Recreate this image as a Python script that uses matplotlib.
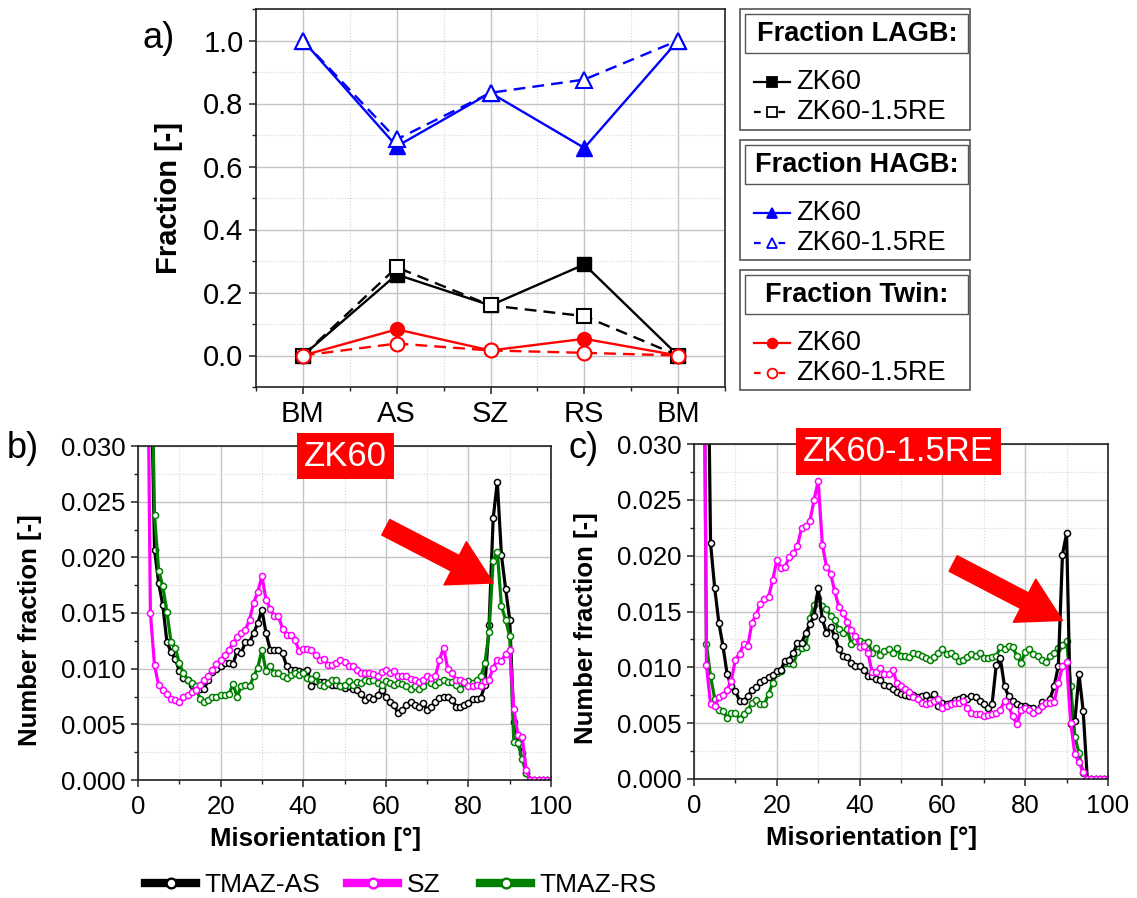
import matplotlib
matplotlib.use('Agg')
import matplotlib.pyplot as plt
from matplotlib.lines import Line2D
from matplotlib.patches import Rectangle

plt.rcParams['font.family'] = ['Liberation Sans', 'DejaVu Sans']

# ---- panel a data ----
sites = ['BM', 'AS', 'SZ', 'RS', 'BM']
lagb_zk60 = [0.0, 0.257, 0.159, 0.289, 0.0]
lagb_re = [0.0, 0.280, 0.159, 0.125, 0.0]
hagb_zk60 = [1.0, 0.664, 0.834, 0.659, 1.0]
hagb_re = [1.0, 0.686, 0.834, 0.876, 1.0]
twin_zk60 = [0.0, 0.083, 0.016, 0.053, 0.0]
twin_re = [0.0, 0.038, 0.016, 0.0085, 0.0]

# ---- panels b, c data (misorientation in degrees) ----
angle = list(range(2, 101))

as_b = [0.06, 0.04, 0.0207, 0.0177, 0.0157, 0.0124, 0.0115, 0.0109, 0.0098, 0.0092,
        0.0090, 0.0085, 0.0083, 0.0082, 0.0082, 0.0090, 0.0097, 0.0100, 0.0102, 0.0105,
        0.0105, 0.0104, 0.0116, 0.0114, 0.0124, 0.0124, 0.0132, 0.0141, 0.0153, 0.0132,
        0.0117, 0.0117, 0.0117, 0.0114, 0.0102, 0.0099, 0.0099, 0.0098, 0.0097, 0.0099,
        0.0084, 0.0089, 0.0088, 0.0088, 0.0087, 0.0085, 0.0085, 0.0084, 0.0083, 0.0084,
        0.0082, 0.0081, 0.0077, 0.0072, 0.0075, 0.0073, 0.0076, 0.0081, 0.0075, 0.0070,
        0.0067, 0.0060, 0.0063, 0.0067, 0.0070, 0.0067, 0.0066, 0.0069, 0.0063, 0.0066,
        0.0070, 0.0074, 0.0075, 0.0075, 0.0072, 0.0066, 0.0066, 0.0067, 0.0069, 0.0073,
        0.0073, 0.0074, 0.0085, 0.0139, 0.0235, 0.0268, 0.0202, 0.0172, 0.0144, 0.0052,
        0.0033, 0.0024, 0.0006, 0.0, 0.0, 0.0, 0.0, 0.0, 0.0]
sz_b = [0.0525, 0.0150, 0.0103, 0.0085, 0.0081, 0.0077, 0.0073, 0.0072, 0.0070, 0.0075,
        0.0076, 0.0079, 0.0081, 0.0085, 0.0090, 0.0093, 0.0099, 0.0104, 0.0108, 0.0112,
        0.0117, 0.0123, 0.0128, 0.0132, 0.0135, 0.0144, 0.0159, 0.0169, 0.0183, 0.0162,
        0.0154, 0.0147, 0.0147, 0.0136, 0.0130, 0.0130, 0.0126, 0.0116, 0.0118, 0.0118,
        0.0117, 0.0112, 0.0108, 0.0109, 0.0103, 0.0103, 0.0105, 0.0108, 0.0106, 0.0102,
        0.0102, 0.0099, 0.0096, 0.0096, 0.0096, 0.0095, 0.0093, 0.0097, 0.0099, 0.0096,
        0.0098, 0.0093, 0.0093, 0.0093, 0.0091, 0.0090, 0.0088, 0.0090, 0.0093, 0.0092,
        0.0093, 0.0108, 0.0119, 0.0100, 0.0096, 0.0090, 0.0090, 0.0088, 0.0084, 0.0084,
        0.0085, 0.0084, 0.0089, 0.0090, 0.0101, 0.0108, 0.0107, 0.0113, 0.0117, 0.0064,
        0.0040, 0.0039, 0.0009, 0.0, 0.0, 0.0, 0.0, 0.0, 0.0]
rs_b = [0.07, 0.045, 0.0238, 0.0188, 0.0174, 0.0151, 0.0124, 0.0119, 0.0105, 0.0096,
        0.0090, 0.0087, 0.0084, 0.0073, 0.0070, 0.0072, 0.0075, 0.0075, 0.0076, 0.0076,
        0.0077, 0.0086, 0.0075, 0.0084, 0.0085, 0.0084, 0.0093, 0.0101, 0.0117, 0.0098,
        0.0102, 0.0096, 0.0096, 0.0093, 0.0092, 0.0094, 0.0096, 0.0094, 0.0096, 0.0092,
        0.0091, 0.0094, 0.0085, 0.0084, 0.0087, 0.0090, 0.0090, 0.0084, 0.0085, 0.0089,
        0.0085, 0.0088, 0.0087, 0.0090, 0.0089, 0.0090, 0.0087, 0.0085, 0.0089, 0.0087,
        0.0085, 0.0087, 0.0086, 0.0084, 0.0082, 0.0084, 0.0082, 0.0084, 0.0090, 0.0087,
        0.0085, 0.0088, 0.0090, 0.0088, 0.0088, 0.0085, 0.0082, 0.0087, 0.0089, 0.0087,
        0.0090, 0.0093, 0.0105, 0.0133, 0.0197, 0.0205, 0.0156, 0.0144, 0.0129, 0.0034,
        0.0033, 0.0019, 0.0006, 0.0, 0.0, 0.0, 0.0, 0.0, 0.0]

as_c = [0.08, 0.0508, 0.0211, 0.0171, 0.0140, 0.0119, 0.0094, 0.0083, 0.0079, 0.0070,
        0.0070, 0.0074, 0.0080, 0.0082, 0.0087, 0.0089, 0.0091, 0.0093, 0.0097, 0.0098,
        0.0106, 0.0107, 0.0113, 0.0122, 0.0122, 0.0131, 0.0139, 0.0146, 0.0171, 0.0143,
        0.0131, 0.0136, 0.0128, 0.0116, 0.0110, 0.0109, 0.0104, 0.0101, 0.0101, 0.0098,
        0.0092, 0.0092, 0.0090, 0.0089, 0.0084, 0.0083, 0.0081, 0.0078, 0.0076, 0.0075,
        0.0074, 0.0075, 0.0073, 0.0074, 0.0075, 0.0071, 0.0076, 0.0065, 0.0068, 0.0067,
        0.0068, 0.0071, 0.0072, 0.0073, 0.0072, 0.0074, 0.0073, 0.0070, 0.0067, 0.0064,
        0.0067, 0.0102, 0.0108, 0.0083, 0.0074, 0.0070, 0.0067, 0.0065, 0.0065, 0.0064,
        0.0064, 0.0062, 0.0069, 0.0068, 0.0072, 0.0083, 0.0101, 0.0201, 0.0220, 0.0049,
        0.0052, 0.0094, 0.0061, 0.0, 0.0, 0.0, 0.0, 0.0, 0.0]
sz_c = [0.067, 0.0102, 0.0067, 0.0065, 0.0073, 0.0075, 0.0080, 0.0088, 0.0107, 0.0112,
        0.0121, 0.0119, 0.0140, 0.0147, 0.0157, 0.0161, 0.0163, 0.0178, 0.0196, 0.0189,
        0.0190, 0.0199, 0.0202, 0.0209, 0.0225, 0.0227, 0.0231, 0.0250, 0.0267, 0.0210,
        0.0190, 0.0184, 0.0168, 0.0154, 0.0149, 0.0141, 0.0133, 0.0128, 0.0118, 0.0119,
        0.0113, 0.0096, 0.0096, 0.0099, 0.0094, 0.0094, 0.0098, 0.0086, 0.0083, 0.0081,
        0.0078, 0.0073, 0.0072, 0.0068, 0.0067, 0.0068, 0.0070, 0.0072, 0.0064, 0.0065,
        0.0067, 0.0068, 0.0068, 0.0070, 0.0064, 0.0059, 0.0058, 0.0058, 0.0056, 0.0057,
        0.0058, 0.0059, 0.0062, 0.0070, 0.0065, 0.0056, 0.0049, 0.0062, 0.0064, 0.0062,
        0.0059, 0.0062, 0.0065, 0.0068, 0.0068, 0.0069, 0.0086, 0.0101, 0.0105, 0.0050,
        0.0022, 0.0015, 0.0006, 0.0, 0.0, 0.0, 0.0, 0.0, 0.0]
rs_c = [0.06, 0.0121, 0.0092, 0.0072, 0.0062, 0.0061, 0.0055, 0.0059, 0.0059, 0.0054,
        0.0058, 0.0062, 0.0068, 0.0071, 0.0067, 0.0067, 0.0076, 0.0086, 0.0095, 0.0097,
        0.0104, 0.0104, 0.0103, 0.0114, 0.0117, 0.0118, 0.0144, 0.0156, 0.0162, 0.0155,
        0.0152, 0.0146, 0.0142, 0.0134, 0.0131, 0.0134, 0.0121, 0.0124, 0.0124, 0.0122,
        0.0123, 0.0113, 0.0117, 0.0111, 0.0115, 0.0116, 0.0113, 0.0117, 0.0110, 0.0110,
        0.0109, 0.0113, 0.0112, 0.0110, 0.0108, 0.0107, 0.0109, 0.0113, 0.0116, 0.0112,
        0.0113, 0.0110, 0.0106, 0.0107, 0.0109, 0.0112, 0.0110, 0.0113, 0.0108, 0.0108,
        0.0109, 0.0110, 0.0118, 0.0116, 0.0119, 0.0118, 0.0110, 0.0104, 0.0114, 0.0116,
        0.0112, 0.0110, 0.0107, 0.0105, 0.0110, 0.0113, 0.0117, 0.0120, 0.0124, 0.0083,
        0.0038, 0.0023, 0.0005, 0.0, 0.0, 0.0, 0.0, 0.0, 0.0]

BLACK = '#000000'
MAGENTA = '#ff00ff'
GREEN = '#008000'
BLUE = '#0000ff'
RED = '#ff0000'

W, H = 1137, 898
fig = plt.figure(figsize=(W / 100, H / 100), dpi=100)


def fx(px):
    return px / W


def fy(py):
    return 1 - py / H


def style_axes(ax, fs):
    for s in ax.spines.values():
        s.set_linewidth(1.2)
        s.set_color('#222222')
    ax.grid(True, which='major', color='#c4c4c4', lw=1.0)
    ax.grid(True, which='minor', color='#d6d6d6', lw=0.8, ls=':')
    ax.set_axisbelow(True)
    ax.tick_params(which='both', direction='out', top=False, right=False,
                   labelsize=fs, color='#222222')
    ax.tick_params(which='major', length=5, width=1.1, pad=4)
    ax.tick_params(which='minor', length=3, width=1.0)


# ---------------- panel a ----------------
axa = fig.add_axes([fx(256), fy(387), fx(725 - 256), (387 - 9) / H])
pos = list(range(len(sites)))
axa.plot(pos, lagb_zk60, '-', color=BLACK, lw=1.7, marker='s', ms=9.5)
axa.plot(pos, lagb_re, '--', color=BLACK, lw=1.7, marker='s', ms=9.5,
         mfc='white', mew=1.5, dashes=(5, 3))
axa.plot(pos, hagb_zk60, '-', color=BLUE, lw=1.7, marker='^', ms=11)
axa.plot(pos, hagb_re, '--', color=BLUE, lw=1.7, marker='^', ms=11,
         mfc='white', mew=1.5, dashes=(5, 3))
axa.plot(pos, twin_zk60, '-', color=RED, lw=1.7, marker='o', ms=10)
axa.plot(pos, twin_re, '--', color=RED, lw=1.7, marker='o', ms=10,
         mfc='white', mew=1.5, dashes=(5, 3))
axa.set_xlim(-0.5, 4.5)
axa.set_ylim(-0.1, 1.1)
axa.set_xticks(pos)
axa.set_xticklabels(sites)
axa.set_xticks([-0.5, 0.5, 1.5, 2.5, 3.5, 4.5], minor=True)
axa.set_yticks([0.0, 0.2, 0.4, 0.6, 0.8, 1.0])
axa.set_yticks([-0.1, 0.1, 0.3, 0.5, 0.7, 0.9, 1.1], minor=True)
axa.yaxis.set_major_formatter(matplotlib.ticker.FormatStrFormatter('%.1f'))
style_axes(axa, 21)
axa.set_ylabel('Fraction [-]', fontsize=21, fontweight='bold')
axa.yaxis.set_label_coords((183 - 256) / 469, 0.5)
fig.text(fx(143), fy(38), 'a)', fontsize=26, va='center', ha='left')

# legend boxes for panel a
groups = [
    ('Fraction LAGB:', BLACK, 's', 9, 130),
    ('Fraction HAGB:', BLUE, '^', 140, 260),
    ('Fraction Twin:', RED, 'o', 270, 390),
]
for title, col, mk, top, bot in groups:
    fig.add_artist(Rectangle((fx(740), fy(bot)), fx(970 - 740), (bot - top) / H,
                             transform=fig.transFigure, fill=False,
                             edgecolor='#555555', lw=1.2))
    fig.add_artist(Rectangle((fx(745), fy(top + 44)), fx(968 - 745), 39 / H,
                             transform=fig.transFigure, fill=False,
                             edgecolor='#555555', lw=1.0))
    fig.text(fx(857), fy(top + 25), title, fontsize=19.5, fontweight='bold',
             ha='center', va='center')
    for k, (ls, face, lab) in enumerate([('-', col, 'ZK60'),
                                         ('--', 'white', 'ZK60-1.5RE')]):
        yy = fy(top + 73 + k * 30)
        fig.add_artist(Line2D([fx(754), fx(790)], [yy, yy], ls=ls, color=col,
                              lw=1.6, transform=fig.transFigure,
                              dashes=(3, 8) if ls == '--' else (None, None)))
        fig.add_artist(Line2D([fx(772)], [yy], marker=mk, ms=7, mfc=face,
                              mec=col, mew=1.3, ls='none',
                              transform=fig.transFigure))
        fig.text(fx(796), yy, lab, fontsize=19.5, ha='left', va='center')


# ---------------- panels b and c ----------------
def panel(rect, series, order, tag_text, tag_pos, arrow_tail, arrow_tip):
    ax = fig.add_axes(rect)
    for key in order:
        y, col = series[key]
        ax.plot(angle, y, '-', color=col, lw=2.3, marker='o', ms=4.4,
                mfc='white', mec=col, mew=1.1)
    ax.set_xlim(0, 100)
    ax.set_ylim(0, 0.03)
    ax.set_xticks([0, 20, 40, 60, 80, 100])
    ax.set_xticks([10, 30, 50, 70, 90], minor=True)
    ax.set_yticks([0, 0.005, 0.01, 0.015, 0.02, 0.025, 0.03])
    ax.set_yticks([0.0025, 0.0075, 0.0125, 0.0175, 0.0225, 0.0275], minor=True)
    ax.yaxis.set_major_formatter(matplotlib.ticker.FormatStrFormatter('%.3f'))
    style_axes(ax, 18.5)
    ax.tick_params(axis='x', which='major', pad=6)
    ax.set_xlabel('Misorientation [°]', fontsize=18.5, fontweight='bold')
    ax.xaxis.set_label_coords(0.43, -0.14)
    ax.set_ylabel('Number fraction [-]', fontsize=18.5, fontweight='bold')
    ax.yaxis.set_label_coords(-0.232, 0.45)
    ax.text(tag_pos[0], tag_pos[1], tag_text, transform=ax.transAxes,
            fontsize=25, color='white', ha='center', va='center',
            bbox=dict(boxstyle='square,pad=0.2', fc=RED, ec='none'),
            clip_on=False, zorder=10)
    ax.annotate('', xy=arrow_tip, xytext=arrow_tail,
                arrowprops=dict(arrowstyle='simple,head_length=1.1,head_width=1.25,tail_width=0.45',
                                color=RED, shrinkA=0, shrinkB=0, mutation_scale=28),
                zorder=9)
    return ax


series_b = {'as': (as_b, BLACK), 'sz': (sz_b, MAGENTA), 'rs': (rs_b, GREEN)}
series_c = {'as': (as_c, BLACK), 'sz': (sz_c, MAGENTA), 'rs': (rs_c, GREEN)}

axb = panel([fx(138), fy(780), fx(551 - 138), (780 - 446) / H], series_b,
            ['as', 'rs', 'sz'], 'ZK60', (0.503, 0.97), (60, 0.0227), (86, 0.0177))
fig.text(fx(7), fy(448), 'b)', fontsize=26, va='center', ha='left')

axc = panel([fx(694), fy(779), fx(1108 - 694), (779 - 444) / H], series_c,
            ['rs', 'as', 'sz'], 'ZK60-1.5RE', (0.494, 0.977), (62.6, 0.0193), (89, 0.0142))
fig.text(fx(568), fy(448), 'c)', fontsize=26, va='center', ha='left')

# bottom legend
entries = [('TMAZ-AS', BLACK, 145), ('SZ', MAGENTA, 347), ('TMAZ-RS', GREEN, 480)]
for lab, col, x0 in entries:
    h = Line2D([], [], color=col, lw=6, marker='o', ms=7, mfc='white',
               mec=col, mew=1.7)
    fig.legend([h], [lab], loc='center left', bbox_to_anchor=(fx(x0), fy(885)),
               frameon=False, borderpad=0, borderaxespad=0, handlelength=1.95,
               handletextpad=0.3, prop=dict(size=19))

fig.savefig('out.png', dpi=100)
